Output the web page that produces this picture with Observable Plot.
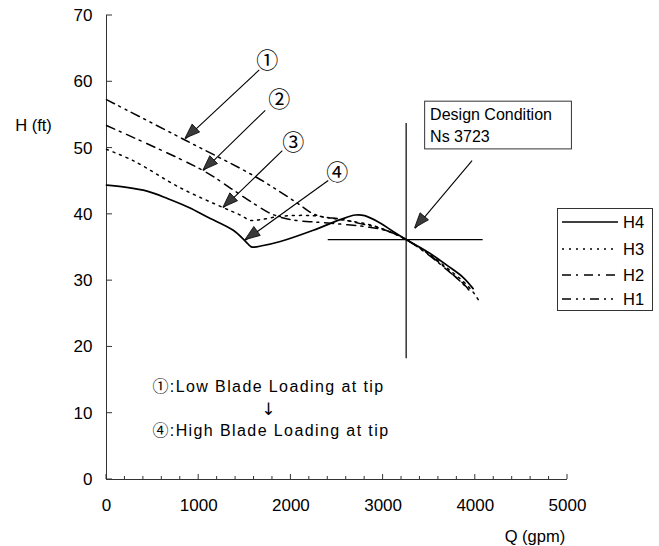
<!DOCTYPE html>
<html><head><meta charset="utf-8">
<script src="https://cdn.jsdelivr.net/npm/d3@7"></script>
<script src="https://cdn.jsdelivr.net/npm/@observablehq/plot@0.6"></script>
<style>
body{margin:0;background:#fff;}
#wrap{position:relative;width:659px;height:546px;font-family:"Liberation Sans",Arial,sans-serif;}
#legend{position:absolute;left:557px;top:208px;width:96px;height:103px;border:1px solid #333;box-sizing:border-box;background:#fff;}
#legend svg{display:block;}
</style></head><body><div id="wrap"></div>
<script>
// ---- series data (Q in gpm, H in ft) ----
const q4 = [0, 200, 440, 660, 900, 1094, 1375, 1510, 1570, 1700, 1885, 2243, 2535, 2700, 2800, 2968, 3100, 3250, 3510, 3694, 3867, 3976];
const h4 = [44.4, 44.1, 43.5, 42.4, 41.0, 39.6, 37.6, 35.9, 35.1, 35.3, 35.9, 37.6, 39.2, 39.9, 39.8, 38.7, 37.5, 36.2, 34.1, 32.3, 30.5, 28.8];
const q3 = [0, 290, 800, 1268, 1450, 1560, 1668, 1885, 2243, 2535, 2892, 3250, 3510, 3694, 3867, 3980, 4050];
const h3 = [49.8, 48.1, 44.0, 41.0, 39.9, 39.1, 39.2, 39.7, 39.8, 39.2, 38.3, 36.2, 33.9, 31.9, 29.9, 28.2, 26.7];
const q2 = [0, 1050, 1350, 1600, 1800, 2000, 2200, 2400, 2827, 3044, 3250, 3510, 3694, 3867, 3943];
const h2 = [53.4, 46.6, 43.9, 41.6, 40.0, 39.2, 38.9, 38.7, 38.1, 37.5, 36.2, 33.7, 31.6, 29.6, 28.4];
const q1 = [0, 867, 1625, 2058, 2239, 2351, 2535, 2752, 2968, 3250, 3510, 3694, 3867, 3930];
const h1 = [57.3, 51.1, 45.6, 41.8, 40.1, 39.6, 39.3, 38.6, 37.9, 36.2, 33.8, 31.7, 29.5, 28.6];

const seriesNames = ["H4", "H3", "H2", "H1"];
const seriesDash = [null, "2,5", "9,5,2,6", "9,5,2,5,2,5"];

// ---- axes ----
const yTicks = [0, 10, 20, 30, 40, 50, 60, 70];
const xMajor = [0, 1000, 2000, 3000, 4000, 5000];
const xMinor = [200, 400, 600, 800, 1200, 1400, 1600, 1800, 2200, 2400, 2600, 2800, 3200, 3400, 3600, 3800, 4200, 4400, 4600, 4800];

// ---- design condition ----
const designQ = [3250], designH = [36.2];
const designVert = [18.2, 53.7];   // H extent of vertical line
const designHorz = [2405, 4085];   // Q extent of horizontal line
const designBox = {q1: 3456, q2: 5048, h1: 57.0, h2: 49.8};
const designText = ["Design Condition", "Ns 3723"];
const designTextPos = [{q: 3510, h: 55.0}, {q: 3510, h: 51.7}];

// ---- arrows & labels ----
const arrowLabel = ["①", "②", "③", "④"];
const arrowQ1 = [1657, 1722, 1907, 2405, 3965];
const arrowH1 = [61.8, 55.7, 49.6, 45.1, 48.1];
const arrowQ2 = [856, 1051, 1268, 1506, 3347];
const arrowH2 = [51.4, 46.6, 41.0, 36.1, 37.9];
const labelQ = [1744, 1874, 2026, 2502];
const labelH = [63.2, 57.2, 50.7, 46.2];

const noteText = ["①:Low Blade Loading at tip", "④:High Blade Loading at tip"];
const noteQ = [498, 498];
const noteH = [13.9, 7.4];
const noteArrow = "↓", noteArrowQ = 1755, noteArrowH = 10.6;

// build tables
const mk = (qs, hs) => qs.map((q, i) => ({q, h: hs[i]}));
const curves = [mk(q4, h4), mk(q3, h3), mk(q2, h2), mk(q1, h1)];
const arrows = arrowQ1.map((q, i) => ({x1: q, y1: arrowH1[i], x2: arrowQ2[i], y2: arrowH2[i]}));
const labels = labelQ.map((q, i) => ({q, h: labelH[i], t: arrowLabel[i]}));
const notes = noteText.map((t, i) => ({t, q: noteQ[i], h: noteH[i]}));

const ns = "http://www.w3.org/2000/svg";
function arrowHeads(index, scales) {
  const g = document.createElementNS(ns, "g");
  for (const a of arrows) {
    const x1 = scales.x(a.x1), y1 = scales.y(a.y1), x2 = scales.x(a.x2), y2 = scales.y(a.y2);
    const dx = x2 - x1, dy = y2 - y1, L = Math.hypot(dx, dy);
    const ux = dx / L, uy = dy / L, len = 15, hw = 5.5;
    const bx = x2 - ux * len, by = y2 - uy * len;
    const p = document.createElementNS(ns, "path");
    p.setAttribute("d", `M${x2},${y2}L${bx - uy * hw},${by + ux * hw}L${bx + uy * hw},${by - ux * hw}Z`);
    p.setAttribute("fill", "#3a3a3a");
    p.setAttribute("stroke", "#000");
    p.setAttribute("stroke-width", "0.8");
    g.appendChild(p);
  }
  return g;
}
// inward tick marks, positioned through the scales
function tickMarks(index, scales) {
  const g = document.createElementNS(ns, "g");
  g.setAttribute("stroke", "#333");
  g.setAttribute("stroke-width", "1");
  const x0 = scales.x(0), y0 = scales.y(0);
  const add = (a, b, c, d) => {
    const l = document.createElementNS(ns, "line");
    l.setAttribute("x1", a); l.setAttribute("y1", b); l.setAttribute("x2", c); l.setAttribute("y2", d);
    g.appendChild(l);
  };
  for (const t of yTicks) add(x0, scales.y(t), x0 + 6, scales.y(t));
  for (const t of xMajor) add(scales.x(t), y0, scales.x(t), y0 - 5);
  for (const t of xMinor) add(scales.x(t), y0, scales.x(t), y0 - 3);
  return g;
}

const font = "Liberation Sans, Arial, sans-serif";

const marks = [
  Plot.ruleX([0], {y1: 0, y2: 70, stroke: "#333", strokeWidth: 1}),
  Plot.ruleY([0], {x1: 0, x2: 5000, stroke: "#333", strokeWidth: 1}),
  Plot.axisY({ticks: yTicks, tickSize: 0, tickPadding: 14, fontSize: 17, tickFormat: d => String(d)}),
  Plot.axisX({ticks: xMajor, tickSize: 0, tickPadding: 19, fontSize: 17, tickFormat: d => String(d)}),
  tickMarks,
  ...curves.map((c, i) => Plot.line(c, {x: "q", y: "h", stroke: "black", strokeWidth: i === 0 ? 1.7 : 1.5, strokeDasharray: seriesDash[i], curve: "catmull-rom"})),
  Plot.ruleX(designQ, {y1: designVert[0], y2: designVert[1], stroke: "black", strokeWidth: 1.2}),
  Plot.ruleY(designH, {x1: designHorz[0], x2: designHorz[1], stroke: "black", strokeWidth: 1.2}),
  Plot.rect([designBox], {x1: "q1", x2: "q2", y1: "h1", y2: "h2", fill: "white", stroke: "#333", strokeWidth: 1}),
  Plot.text(designText.map((t, i) => ({t, ...designTextPos[i]})), {x: "q", y: "h", text: "t", textAnchor: "start", fontSize: 16, fill: "black"}),
  Plot.link(arrows, {x1: "x1", y1: "y1", x2: "x2", y2: "y2", stroke: "black", strokeWidth: 1.1}),
  arrowHeads,
  Plot.text(labels, {x: "q", y: "h", text: "t", fontSize: 22, fontFamily: "Noto Sans CJK KR", fill: "black"}),
  Plot.text(notes, {x: "q", y: "h", text: "t", textAnchor: "start", fontSize: 16, fill: "black"}),
  Plot.text([{t: noteArrow, q: noteArrowQ, h: noteArrowH}], {x: "q", y: "h", text: "t", fontSize: 17, fontFamily: "DejaVu Sans", fill: "black"}),
  Plot.text([{t: "H (ft)", q: 0, h: 53.4}], {x: "q", y: "h", text: "t", dx: -73, fontSize: 16.5, fill: "black"}),
  Plot.text([{t: "Q (gpm)", q: 4647, h: -8.7}], {x: "q", y: "h", text: "t", fontSize: 16.5, fill: "black"})
];

const chart = Plot.plot({
  width: 659, height: 546,
  marginLeft: 106, marginRight: 92, marginTop: 15, marginBottom: 67,
  x: {domain: [0, 5000]},
  y: {domain: [0, 70]},
  style: {fontFamily: font, fontSize: "16px", background: "white", color: "black", overflow: "visible"},
  marks
});

d3.select(chart).selectAll("text").filter(function() { return this.textContent.includes("Blade"); })
  .attr("letter-spacing", "1.4").attr("font-family", "Liberation Sans, Noto Sans CJK KR, sans-serif");

const wrap = document.getElementById("wrap");
wrap.appendChild(chart);

// legend
const leg = document.createElement("div");
leg.id = "legend";
const rowsY = [13, 40, 66, 90];
let s = `<svg width="94" height="101" xmlns="http://www.w3.org/2000/svg" font-family="${font}" font-size="16.5">`;
seriesNames.forEach((n, i) => {
  s += `<line x1="4" x2="60" y1="${rowsY[i]}" y2="${rowsY[i]}" stroke="black" stroke-width="1.5" ${seriesDash[i] ? `stroke-dasharray="${seriesDash[i]}"` : ""}/>`;
  s += `<text x="65" y="${rowsY[i]}" dy="0.36em" fill="black">${n}</text>`;
});
s += `</svg>`;
leg.innerHTML = s;
wrap.appendChild(leg);
</script></body></html>
